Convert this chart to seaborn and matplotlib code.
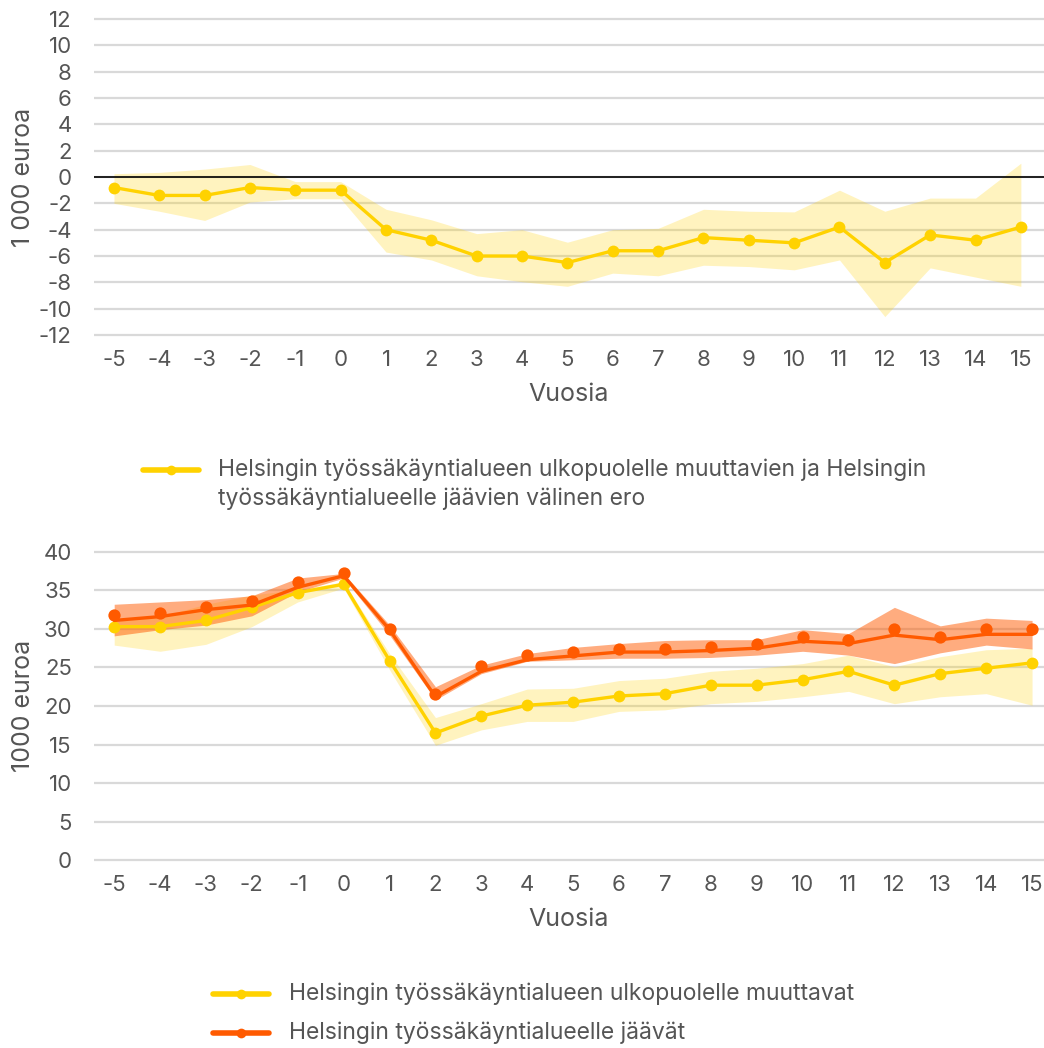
import pandas as pd
import seaborn as sns
import matplotlib.pyplot as plt
from matplotlib.lines import Line2D

sns.set_theme(style="white")
plt.rcParams['font.family'] = ['Inter', 'DejaVu Sans']
plt.rcParams['axes.unicode_minus'] = False

# Years relative to the move
years = list(range(-5, 16))

# Top chart: difference between movers and stayers (1000 euros)
diff = [-0.8, -1.4, -1.4, -0.8, -1.0, -1.0, -4.0, -4.8, -6.0, -6.0, -6.5,
        -5.6, -5.6, -4.6, -4.8, -5.0, -3.8, -6.5, -4.4, -4.8, -3.8]
diff_low = [-2.0, -2.6, -3.3, -1.9, -1.65, -1.65, -5.7, -6.3, -7.5, -7.95, -8.3,
            -7.3, -7.5, -6.7, -6.8, -7.05, -6.3, -10.6, -6.9, -7.6, -8.3]
diff_high = [0.25, 0.35, 0.6, 0.95, -0.35, -0.35, -2.45, -3.25, -4.3, -4.0, -4.95,
             -4.0, -3.9, -2.45, -2.6, -2.65, -1.0, -2.6, -1.6, -1.6, 1.05]

# Bottom chart: movers out of the Helsinki commuting area
movers = [30.3, 30.3, 31.1, 32.8, 34.7, 35.8, 25.9, 16.5, 18.7, 20.1, 20.5,
          21.3, 21.6, 22.7, 22.7, 23.4, 24.5, 22.7, 24.2, 24.9, 25.6]
movers_low = [27.9, 27.1, 28.0, 30.3, 33.5, 35.3, 24.7, 14.9, 16.9, 18.0, 18.0,
              19.3, 19.5, 20.3, 20.6, 21.2, 21.9, 20.3, 21.2, 21.6, 20.1]
movers_high = [31.0, 31.6, 33.2, 34.4, 35.1, 36.1, 26.8, 18.5, 20.3, 22.2, 22.3,
               23.3, 23.6, 24.5, 24.9, 25.5, 26.6, 25.1, 26.4, 27.3, 27.5]

# Bottom chart: stayers in the Helsinki commuting area
stayers_line = [31.1, 31.6, 32.5, 33.1, 35.4, 36.9, 29.9, 21.2, 24.5, 26.0, 26.5,
                27.0, 27.0, 27.2, 27.5, 28.4, 28.1, 29.2, 28.6, 29.3, 29.3]
stayers_points = [31.8, 32.1, 32.8, 33.6, 36.1, 37.2, 30.0, 21.6, 25.2, 26.6, 27.0,
                  27.4, 27.4, 27.7, 28.1, 28.9, 28.5, 30.0, 28.9, 30.0, 30.0]
stayers_low = [29.1, 29.9, 30.5, 31.7, 34.8, 36.6, 29.2, 20.8, 24.2, 25.8, 26.0,
               26.2, 26.2, 26.3, 26.6, 27.1, 26.6, 25.5, 26.9, 27.9, 27.4]
stayers_high = [33.2, 33.5, 33.8, 34.3, 36.6, 37.2, 30.5, 22.5, 25.3, 26.8, 27.6,
                28.1, 28.5, 28.6, 28.6, 29.9, 29.4, 32.8, 30.4, 31.4, 31.1]

legend_top = ("Helsingin työssäkäyntialueen ulkopuolelle muuttavien ja Helsingin\n"
              "työssäkäyntialueelle jäävien välinen ero")
legend_movers = "Helsingin työssäkäyntialueen ulkopuolelle muuttavat"
legend_stayers = "Helsingin työssäkäyntialueelle jäävät"

YELLOW = '#FFD200'
ORANGE = '#FF5A00'
TEXT = '#555555'
FS_TICK = 16
FS_LABEL = 18
FS_LEGEND = 16.5

W, H = 1044, 1048
fig = plt.figure(figsize=(W / 100, H / 100), dpi=100)


def style_axis(ax, yticks, xlim, ylim, ylabel):
    ax.set_xlim(*xlim)
    ax.set_ylim(*ylim)
    ax.set_yticks(yticks)
    ax.set_xticks(years)
    ax.set_xticklabels([str(y) for y in years])
    ax.grid(axis='y', color='#d9d9d9', lw=1.6, zorder=0)
    ax.grid(axis='x', visible=False)
    for s in ax.spines.values():
        s.set_visible(False)
    ax.tick_params(axis='both', length=0, labelsize=FS_TICK, labelcolor=TEXT)
    ax.tick_params(axis='y', pad=16)
    ax.tick_params(axis='x', pad=8)
    ax.set_xlabel("Vuosia", fontsize=FS_LABEL, color=TEXT, labelpad=9)
    ax.set_ylabel(ylabel, fontsize=FS_LABEL, color=TEXT)
    ax.yaxis.set_label_coords(-0.062, 0.5)
    ax.set_axisbelow(True)


def legend_entry(x0, x1, y, tx, color, text):
    yf = 1 - y / H
    fig.add_artist(Line2D([x0 / W, x1 / W], [yf, yf], color=color, lw=4,
                          solid_capstyle='round', transform=fig.transFigure))
    fig.add_artist(Line2D([(x0 + x1) / 2 / W], [yf], marker='o', ms=7, mew=0,
                          color=color, transform=fig.transFigure))
    return fig.text(tx / W, yf, text, fontsize=FS_LEGEND, color=TEXT, va='center',
                    ha='left', linespacing=1.35)


# ---- top chart
ax1 = fig.add_axes([94 / W, 1 - 339 / H, 950 / W, 324 / H])
ax1.fill_between(years, diff_low, diff_high, color=YELLOW, alpha=0.25, lw=0, zorder=2)
ax1.axhline(0, color='black', lw=1.2, zorder=3)
sns.lineplot(x=years, y=diff, ax=ax1, color=YELLOW, lw=2.4, marker='o',
             markersize=8.5, markeredgewidth=0, zorder=4)
style_axis(ax1, range(-12, 13, 2), (-5.44, 15.51), (-12.3, 12.3), "1 000 euroa")

# ---- bottom chart
ax2 = fig.add_axes([94 / W, 1 - 864 / H, 950 / W, 316 / H])
ax2.fill_between(years, movers_low, movers_high, color=YELLOW, alpha=0.25, lw=0, zorder=2)
ax2.fill_between(years, stayers_low, stayers_high, color=ORANGE, alpha=0.5, lw=0, zorder=2)
sns.lineplot(x=years, y=movers, ax=ax2, color=YELLOW, lw=2.4, marker='o',
             markersize=8.5, markeredgewidth=0, zorder=4)
sns.lineplot(x=years, y=stayers_line, ax=ax2, color=ORANGE, lw=2.4, zorder=5)
sns.scatterplot(x=years, y=stayers_points, ax=ax2, color=ORANGE, s=78,
                linewidth=0, zorder=6)
style_axis(ax2, range(0, 41, 5), (-5.44, 15.26), (-0.5, 40.5), "1000 euroa")

# ---- legends
t = legend_entry(143, 199, 470, 218, YELLOW, legend_top)
t.set_y(1 - 484 / H)
legend_entry(213, 269, 994, 289, YELLOW, legend_movers)
legend_entry(213, 269, 1033, 289, ORANGE, legend_stayers)

fig.savefig('out.png', dpi=100)
